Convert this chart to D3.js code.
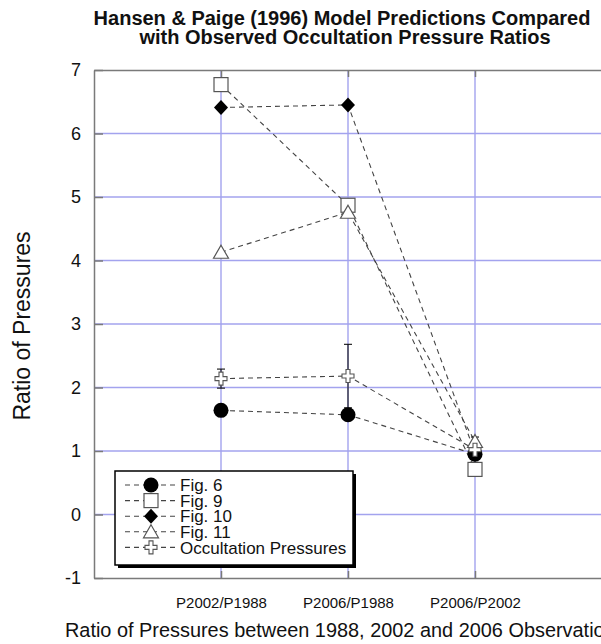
<!DOCTYPE html>
<html><head><meta charset="utf-8">
<script src="https://cdn.jsdelivr.net/npm/d3@7"></script>
<style>
body{margin:0;background:#fff;}
svg{display:block;font-family:"Liberation Sans",Arial,Helvetica,sans-serif;}
</style></head>
<body><svg id="c" width="601" height="644"></svg>
<script>
const categories = ["P2002/P1988","P2006/P1988","P2006/P2002"];
const fig6  = [1.64, 1.57, 0.95];
const fig9  = [6.77, 4.87, 0.71];
const fig10 = [6.41, 6.45, 0.97];
const fig11 = [4.13, 4.76, 1.15];
const occ   = [2.14, 2.18, 1.02];
const occErr = [0.15, 0.5, 0.2];
const yTicks = [-1,0,1,2,3,4,5,6,7];
const gridY = [0,1,2,3,4,5,6];
const seriesNames = ["Fig. 6","Fig. 9","Fig. 10","Fig. 11","Occultation Pressures"];
const seriesShapes = ["circle","square","diamond","triangle","cross"];

const series = [fig6, fig9, fig10, fig11, occ].map((v,i)=>({name:seriesNames[i], shape:seriesShapes[i], values:v}));

const svg = d3.select("#c");
const L=94, R=602, T=70, B=578;
const x = d3.scaleLinear().domain([0,4]).range([L,R]);
const y = d3.scaleLinear().domain([-1,7]).range([B,T]);
const xi = i => x(i+1);

const gridCol = "#a3a3ee", frameCol = "#7a7a7a";
const FF = "Liberation Sans, Arial, sans-serif";

// grid
const g = svg.append("g");
g.selectAll(".gy").data(gridY).join("line")
  .attr("x1",L).attr("x2",R).attr("y1",d=>y(d)).attr("y2",d=>y(d))
  .attr("stroke",gridCol).attr("stroke-width",1.4);
g.selectAll(".gx").data(categories).join("line")
  .attr("x1",(d,i)=>xi(i)).attr("x2",(d,i)=>xi(i)).attr("y1",T).attr("y2",B)
  .attr("stroke",gridCol).attr("stroke-width",1.4);

// left axis
const ya = svg.append("g").attr("transform",`translate(${L},0)`)
  .call(d3.axisLeft(y).tickValues(yTicks).tickFormat(d=>String(d)).tickSizeInner(-9).tickSizeOuter(0).tickPadding(13));
ya.select(".domain").attr("stroke",frameCol).attr("stroke-width",1.5);
ya.selectAll(".tick line").attr("stroke",frameCol).attr("stroke-width",1.5);
ya.selectAll(".tick text").attr("font-size",18).attr("fill","#111").attr("font-family",FF);

// bottom axis
const xa = svg.append("g").attr("transform",`translate(0,${B})`)
  .call(d3.axisBottom(x).tickValues([1,2,3]).tickFormat(d=>categories[d-1]).tickSizeInner(-7).tickSizeOuter(0).tickPadding(19));
xa.select(".domain").attr("stroke",frameCol).attr("stroke-width",1.5);
xa.selectAll(".tick line").attr("stroke",frameCol).attr("stroke-width",1.5);
xa.selectAll(".tick text").attr("font-size",15).attr("fill","#111").attr("font-family",FF);

// top axis
const ta = svg.append("g").attr("transform",`translate(0,${T})`)
  .call(d3.axisTop(x).tickValues([1,2,3]).tickFormat("").tickSizeInner(-7).tickSizeOuter(0));
ta.select(".domain").attr("stroke",frameCol).attr("stroke-width",1.5);
ta.selectAll(".tick line").attr("stroke",frameCol).attr("stroke-width",1.5);

// lines
const line = d3.line().x((d,i)=>xi(i)).y(d=>y(d));
svg.append("g").selectAll("path").data(series).join("path")
  .attr("d",d=>line(d.values)).attr("fill","none")
  .attr("stroke","#444").attr("stroke-width",1.1).attr("stroke-dasharray","5,4");

// error bars
const eb = svg.append("g").attr("stroke","#111").attr("stroke-width",1.1);
occ.forEach((v,i)=>{
  const cx = xi(i);
  eb.append("line").attr("x1",cx).attr("x2",cx).attr("y1",y(v-occErr[i])).attr("y2",y(v+occErr[i]));
  eb.append("line").attr("x1",cx-4).attr("x2",cx+4).attr("y1",y(v-occErr[i])).attr("y2",y(v-occErr[i]));
  eb.append("line").attr("x1",cx-4).attr("x2",cx+4).attr("y1",y(v+occErr[i])).attr("y2",y(v+occErr[i]));
});

function drawMarker(sel, shape){
  if(shape==="circle") sel.append("circle").attr("r",7.5).attr("fill","#000");
  else if(shape==="square") sel.append("rect").attr("x",-7).attr("y",-7).attr("width",14).attr("height",14).attr("fill","#fff").attr("stroke","#555").attr("stroke-width",1.2);
  else if(shape==="diamond") sel.append("path").attr("d","M0,-7.5L7,0L0,7.5L-7,0Z").attr("fill","#000");
  else if(shape==="triangle") sel.append("path").attr("d","M0,-7L7.5,6L-7.5,6Z").attr("fill","#fff").attr("stroke","#555").attr("stroke-width",1.2);
  else if(shape==="cross") sel.append("path").attr("d","M-2,-6.5H2V-2H6V2H2V6.5H-2V2H-6V-2H-2Z").attr("fill","#fff").attr("stroke","#555").attr("stroke-width",1.1);
}

const mk = svg.append("g");
series.forEach(s=>{
  s.values.forEach((v,i)=>{
    const m = mk.append("g").attr("transform",`translate(${xi(i)},${y(v)})`);
    drawMarker(m, s.shape);
  });
});

// legend
const lg = svg.append("g");
const lx=115, ly=471, lw=238, lh=94;
lg.append("rect").attr("x",lx+3).attr("y",ly+3).attr("width",lw).attr("height",lh).attr("fill","#000");
lg.append("rect").attr("x",lx).attr("y",ly).attr("width",lw).attr("height",lh).attr("fill","#fff").attr("stroke","#000").attr("stroke-width",1.5);
series.forEach((s,i)=>{
  const yy = 485 + i*15.6;
  lg.append("line").attr("x1",125).attr("x2",176).attr("y1",yy).attr("y2",yy)
    .attr("stroke","#444").attr("stroke-width",1.1).attr("stroke-dasharray","5,4");
  const m = lg.append("g").attr("transform",`translate(151,${yy})`);
  drawMarker(m, s.shape);
  lg.append("text").attr("x",180).attr("y",yy).attr("dy","0.36em").attr("font-size",17).attr("fill","#111").text(s.name);
});

// titles
svg.append("text").attr("x",342).attr("y",25).attr("text-anchor","middle").attr("font-weight","bold").attr("font-size",20).attr("fill","#111")
  .text("Hansen & Paige (1996) Model Predictions Compared");
svg.append("text").attr("x",345).attr("y",44).attr("text-anchor","middle").attr("font-weight","bold").attr("font-size",20).attr("fill","#111")
  .text("with Observed Occultation Pressure Ratios");
svg.append("text").attr("transform","translate(30,326) rotate(-90)").attr("text-anchor","middle").attr("font-size",23).attr("fill","#111")
  .text("Ratio of Pressures");
svg.append("text").attr("x",65).attr("y",637).attr("font-size",19.9).attr("fill","#111")
  .text("Ratio of Pressures between 1988, 2002 and 2006 Observations");
</script></body></html>
